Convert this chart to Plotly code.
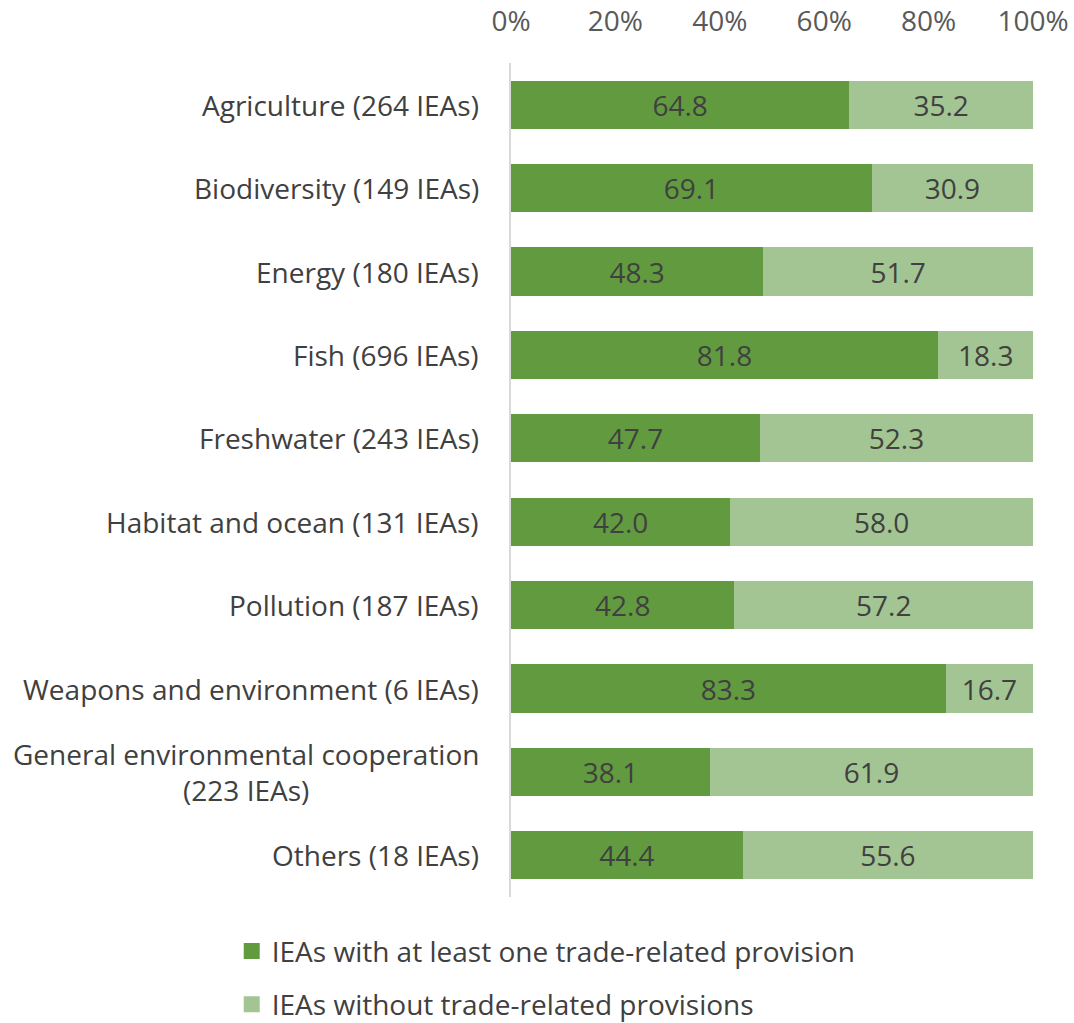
import plotly.graph_objects as go

categories = [
    "Agriculture (264 IEAs)",
    "Biodiversity (149 IEAs)",
    "Energy (180 IEAs)",
    "Fish (696 IEAs)",
    "Freshwater (243 IEAs)",
    "Habitat and ocean (131 IEAs)",
    "Pollution (187 IEAs)",
    "Weapons and environment (6 IEAs)",
    "General environmental cooperation<br>(223 IEAs)",
    "Others (18 IEAs)",
]
with_trade = [64.8, 69.1, 48.3, 81.8, 47.7, 42.0, 42.8, 83.3, 38.1, 44.4]
without_trade = [35.2, 30.9, 51.7, 18.3, 52.3, 58.0, 57.2, 16.7, 61.9, 55.6]
series_names = [
    "IEAs with at least one trade-related provision",
    "IEAs without trade-related provisions",
]
tick_vals = [0, 20, 40, 60, 80, 100]
tick_text = ["0%", "20%", "40%", "60%", "80%", "100%"]

DARK = "#629B3F"
LIGHT = "#A3C593"
FONT = "Open Sans"
SIZE = 28
TEXT = "#404040"
TICK = "#595959"

fig = go.Figure()
for vals, color, name in [(with_trade, DARK, series_names[0]),
                          (without_trade, LIGHT, series_names[1])]:
    fig.add_trace(go.Bar(
        y=categories, x=vals, orientation="h",
        name=name, legendgroup=name, showlegend=False,
        marker=dict(color=color, line=dict(width=0)),
        text=[f"{v:.1f}" for v in vals], textposition="inside",
        insidetextanchor="middle",
        textfont=dict(color=TEXT, size=SIZE, family=FONT),
        width=0.58,
    ))
    # Larger square swatch for the legend entry
    fig.add_trace(go.Scatter(
        x=[None], y=[None], mode="markers", name=name, legendgroup=name,
        marker=dict(symbol="square", size=16, color=color, line=dict(width=0)),
    ))

# Category labels as annotations so the wrapped label is centred
for c in categories:
    fig.add_annotation(
        x=0, y=c, xref="paper", yref="y", text=c, showarrow=False,
        xanchor="right", align="center", xshift=-30,
        font=dict(family=FONT, size=SIZE, color=TEXT),
    )

fig.update_layout(
    barmode="stack",
    width=1074, height=1023,
    margin=dict(l=511, r=41, t=63, b=126, autoexpand=False),
    plot_bgcolor="white", paper_bgcolor="white",
    font=dict(family=FONT, color=TEXT),
    uniformtext=dict(mode="show", minsize=10),
    showlegend=True,
    legend=dict(
        orientation="v", x=-0.535, xanchor="left", y=-0.035, yanchor="top",
        font=dict(family=FONT, size=SIZE, color=TEXT),
        tracegroupgap=14, itemwidth=30, traceorder="grouped",
        itemsizing="trace",
    ),
    xaxis=dict(
        side="top", range=[0, 100], tickvals=tick_vals, ticktext=tick_text,
        showgrid=False, zeroline=False, showline=False, ticks="",
        ticklabelstandoff=25, automargin=False,
        tickfont=dict(family=FONT, size=SIZE, color=TICK),
    ),
    yaxis=dict(
        autorange="reversed", showticklabels=False, showgrid=False,
        showline=True, linecolor="#D9D9D9", linewidth=1.5, ticks="",
        automargin=False,
    ),
)

fig.write_html("out.html")
